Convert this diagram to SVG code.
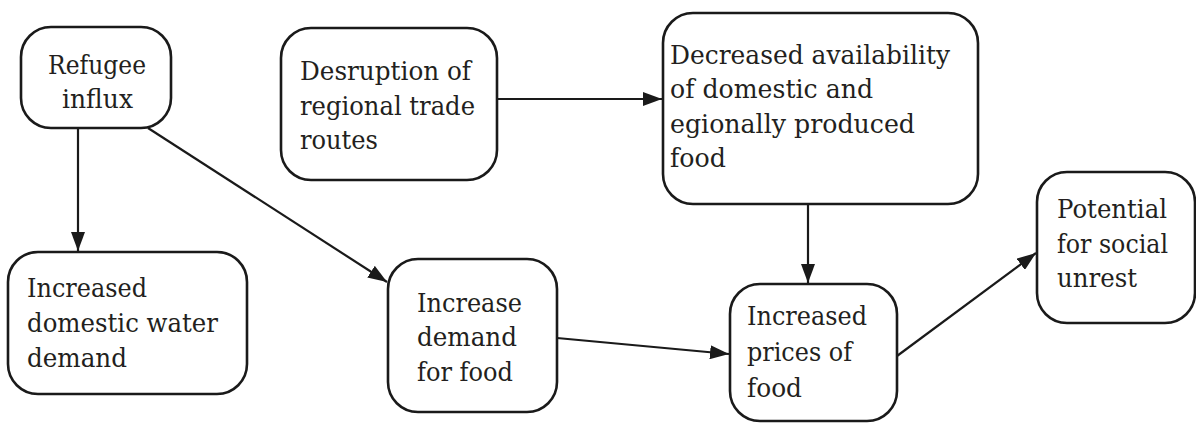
<svg xmlns="http://www.w3.org/2000/svg" width="1196" height="423" viewBox="0 0 1196 423">
  <style>
    .box { fill: #ffffff; stroke: #1a1a1a; stroke-width: 2.6; }
    .lbl { font-family: "DejaVu Serif", "Liberation Serif", serif; font-size: 26.5px; fill: #231f20; }
    .edge { fill: none; stroke: #1a1a1a; stroke-width: 2.2; marker-end: url(#arrow); }
  </style>
  <defs>
    <marker id="arrow" markerUnits="userSpaceOnUse" markerWidth="20" markerHeight="14" refX="19" refY="7" orient="auto">
      <path d="M0,0 L19,7 L0,14 z" fill="#1a1a1a"/>
    </marker>
  </defs>
  <rect width="1196" height="423" fill="#ffffff"/>

  <g id="connectors">
    <line class="edge" x1="78" y1="129" x2="78" y2="251"/>
    <line class="edge" x1="148" y1="128" x2="387" y2="282"/>
    <line class="edge" x1="497" y1="99" x2="662" y2="99"/>
    <line class="edge" x1="808" y1="205" x2="808" y2="283"/>
    <line class="edge" x1="557" y1="338" x2="729" y2="354"/>
    <line class="edge" x1="897" y1="356" x2="1036" y2="253"/>
  </g>

  <g id="refugee-influx">
    <rect class="box" x="21" y="27" width="150" height="101" rx="30"/>
    <text class="lbl" x="48" y="74" textLength="98" lengthAdjust="spacingAndGlyphs">Refugee</text>
    <text class="lbl" x="62" y="108" textLength="71" lengthAdjust="spacingAndGlyphs">influx</text>
  </g>

  <g id="trade-disruption">
    <rect class="box" x="281" y="28" width="216" height="152" rx="30"/>
    <text class="lbl" x="300" y="80" textLength="171" lengthAdjust="spacingAndGlyphs">Desruption of</text>
    <text class="lbl" x="300" y="115" textLength="175" lengthAdjust="spacingAndGlyphs">regional trade</text>
    <text class="lbl" x="300" y="149" textLength="78" lengthAdjust="spacingAndGlyphs">routes</text>
  </g>

  <g id="food-availability">
    <rect class="box" x="663" y="13" width="315" height="191" rx="30"/>
    <text class="lbl" x="670" y="64" textLength="280" lengthAdjust="spacingAndGlyphs">Decreased availability</text>
    <text class="lbl" x="670" y="98" textLength="203" lengthAdjust="spacingAndGlyphs">of domestic and</text>
    <text class="lbl" x="670" y="133" textLength="245" lengthAdjust="spacingAndGlyphs">egionally produced</text>
    <text class="lbl" x="670" y="167" textLength="56" lengthAdjust="spacingAndGlyphs">food</text>
  </g>

  <g id="social-unrest">
    <rect class="box" x="1037" y="172" width="158" height="151" rx="30"/>
    <text class="lbl" x="1057" y="218" textLength="110" lengthAdjust="spacingAndGlyphs">Potential</text>
    <text class="lbl" x="1057" y="253" textLength="111" lengthAdjust="spacingAndGlyphs">for social</text>
    <text class="lbl" x="1057" y="287" textLength="80" lengthAdjust="spacingAndGlyphs">unrest</text>
  </g>

  <g id="water-demand">
    <rect class="box" x="8" y="252" width="239" height="142" rx="30"/>
    <text class="lbl" x="27" y="297" textLength="120" lengthAdjust="spacingAndGlyphs">Increased</text>
    <text class="lbl" x="27" y="332" textLength="191" lengthAdjust="spacingAndGlyphs">domestic water</text>
    <text class="lbl" x="27" y="367" textLength="100" lengthAdjust="spacingAndGlyphs">demand</text>
  </g>

  <g id="food-demand">
    <rect class="box" x="388" y="259" width="169" height="153" rx="30"/>
    <text class="lbl" x="417" y="312" textLength="105" lengthAdjust="spacingAndGlyphs">Increase</text>
    <text class="lbl" x="417" y="346" textLength="100" lengthAdjust="spacingAndGlyphs">demand</text>
    <text class="lbl" x="417" y="381" textLength="96" lengthAdjust="spacingAndGlyphs">for food</text>
  </g>

  <g id="food-prices">
    <rect class="box" x="730" y="284" width="167" height="137" rx="30"/>
    <text class="lbl" x="747" y="325" textLength="120" lengthAdjust="spacingAndGlyphs">Increased</text>
    <text class="lbl" x="747" y="361" textLength="105" lengthAdjust="spacingAndGlyphs">prices of</text>
    <text class="lbl" x="747" y="397" textLength="55" lengthAdjust="spacingAndGlyphs">food</text>
  </g>
</svg>
